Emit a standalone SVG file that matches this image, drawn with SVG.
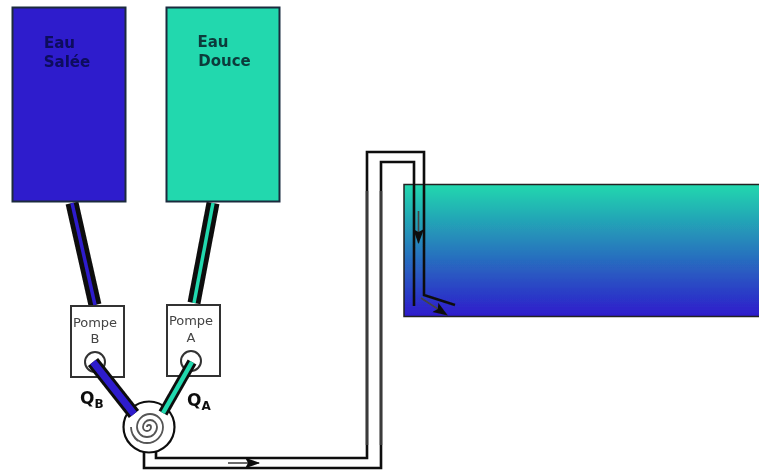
<svg xmlns="http://www.w3.org/2000/svg" width="759" height="470" viewBox="0 0 759 470">
<style>
.tank{stroke:#1c2a3c;stroke-width:2}
.big{font:bold 15px "DejaVu Sans",sans-serif;text-anchor:middle}
.pump{fill:#fff;stroke:#333;stroke-width:2}
.lab{font:13px "DejaVu Sans",sans-serif;fill:#444;text-anchor:middle}
.q{font:bold 17px "DejaVu Sans",sans-serif;fill:#111}
.sub{font:bold 12px "DejaVu Sans",sans-serif;fill:#111}
.pipe{fill:none;stroke:#111;stroke-width:2.600}
.gray{fill:none;stroke:#3a3a3a;stroke-width:2.600}
.thin{fill:none;stroke:#444;stroke-width:1.600}
.port{fill:#fff;stroke:#333;stroke-width:2}
</style>
<defs>
<linearGradient id="g" x1="0" y1="0" x2="0" y2="1"><stop offset="0" stop-color="#20d8ae"/><stop offset="1" stop-color="#2e1bcc"/></linearGradient>
<filter id="b" x="-5%" y="-5%" width="110%" height="110%"><feGaussianBlur stdDeviation="0.6"/></filter>
<marker id="ah" markerWidth="16" markerHeight="12" refX="14" refY="6" orient="auto" markerUnits="userSpaceOnUse"><path d="M0 0.500L15 6L0 11.500L3 6Z" fill="#111"/></marker>
</defs>
<g filter="url(#b)">
<g id="basin"><rect x="404" y="184.500" width="356" height="132" fill="url(#g)" stroke="#222" stroke-width="1.500"/></g>
<g id="connectors">
<path d="M72 203L95 305" stroke="#0d0d0d" stroke-width="13" fill="none"/>
<path d="M72 203L95 305" stroke="#2e1bcc" stroke-width="3.500" fill="none"/>
<path d="M213 203L194 303" stroke="#0d0d0d" stroke-width="13" fill="none"/>
<path d="M213 203L194 303" stroke="#20d8ae" stroke-width="3.500" fill="none"/>
<path class="pipe" d="M144 452V468H381V162H414V306"/>
<path class="pipe" d="M156 448V458H367V152H424V295L455 305"/>
<path class="gray" d="M367 191V445M381 191V445"/>
<path class="thin" d="M418.500 211V243" marker-end="url(#ah)"/>
<path class="thin" d="M421 298L447 315" marker-end="url(#ah)"/>
<path class="thin" d="M228 463H259" marker-end="url(#ah)"/>
</g>
<g id="eau-salee"><rect class="tank" x="12.500" y="7.500" width="113" height="194" fill="#2e1bcc"/>
<text class="big" fill="#0c0a5c"><tspan x="59.500" y="48">Eau</tspan><tspan x="67" y="67">Salée</tspan></text></g>
<g id="eau-douce"><rect class="tank" x="166.500" y="7.500" width="113" height="194" fill="#20d8ae"/>
<text class="big" fill="#0b3a3a"><tspan x="213" y="47">Eau</tspan><tspan x="224.500" y="66">Douce</tspan></text></g>
<g id="pompe-b"><rect class="pump" x="71" y="306" width="53" height="71"/>
<text class="lab"><tspan x="95" y="327">Pompe</tspan><tspan x="95" y="343">B</tspan></text><circle class="port" cx="95" cy="362" r="10"/></g>
<g id="pompe-a"><rect class="pump" x="167" y="305" width="53" height="71"/>
<text class="lab"><tspan x="191" y="325">Pompe</tspan><tspan x="191" y="342">A</tspan></text><circle class="port" cx="191" cy="361" r="10"/></g>
<g id="melangeur"><circle cx="149" cy="427" r="25.500" fill="#fff" stroke="#111" stroke-width="2.200"/>
<path d="M147 427A2 2 0 0 1 151 427A4 4 0 0 1 143 427A7 7 0 0 1 157 427A10 10 0 0 1 137 427A13 13 0 0 1 163 427A16 16 0 0 1 131 427A18 18 0 0 0 138 441" fill="none" stroke="#555" stroke-width="1.800"/></g>
<g id="tube-b"><path d="M93 362L134 414" stroke="#0d0d0d" stroke-width="13" fill="none"/><path d="M93 362L134 414" stroke="#2e1bcc" stroke-width="7" fill="none"/></g>
<g id="tube-a"><path d="M192 362L163 413" stroke="#0d0d0d" stroke-width="10" fill="none"/><path d="M192 362L163 413" stroke="#20d8ae" stroke-width="4.500" fill="none"/></g>
<g id="debits"><text class="q" x="80" y="404">Q<tspan class="sub" dy="4">B</tspan></text>
<text class="q" x="187" y="406">Q<tspan class="sub" dy="4">A</tspan></text></g>
</g>
</svg>
